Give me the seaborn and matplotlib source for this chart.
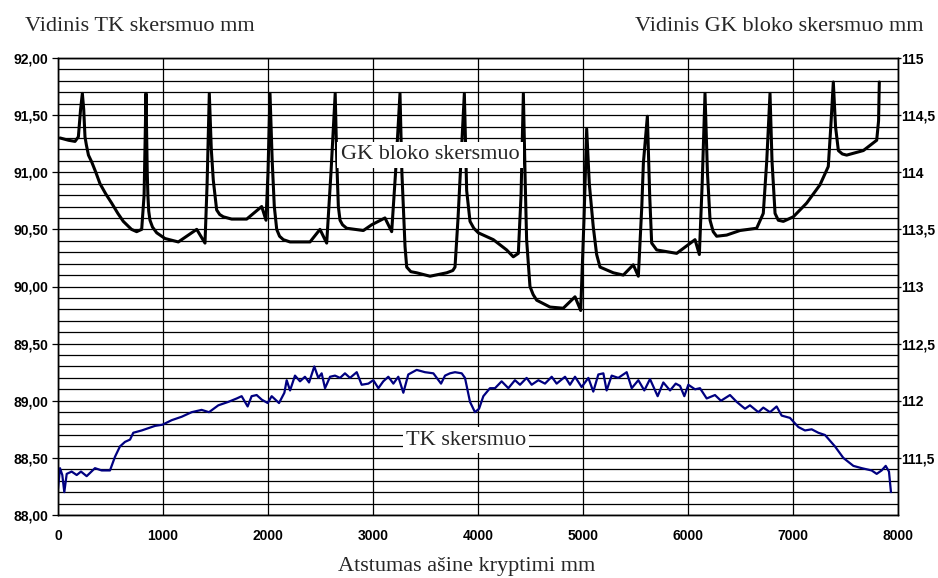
import matplotlib
matplotlib.use("Agg")
import matplotlib.pyplot as plt
import matplotlib.ticker as mticker
import seaborn as sns
import pandas as pd

# ---------------- data ----------------
tk_x = [0, 19, 41, 60, 83, 130, 178, 219, 273, 352, 416, 495, 543, 590, 638, 686, 717, 797, 860, 924,
        994, 1083, 1178, 1273, 1368, 1438, 1527, 1622, 1702, 1749, 1806, 1844, 1892, 1940, 1997, 2035,
        2105, 2156, 2178, 2210, 2257, 2305, 2352, 2391, 2441, 2479, 2511, 2543, 2591, 2638, 2686, 2733,
        2781, 2845, 2892, 2956, 3003, 3051, 3098, 3146, 3194, 3241, 3289, 3336, 3416, 3495, 3575, 3648,
        3686, 3733, 3781, 3845, 3876, 3924, 3971, 4010, 4051, 4114, 4162, 4225, 4289, 4352, 4400, 4463,
        4511, 4575, 4638, 4702, 4749, 4829, 4876, 4924, 4987, 5051, 5098, 5146, 5194, 5225, 5273, 5336,
        5416, 5464, 5527, 5584, 5638, 5711, 5765, 5829, 5883, 5924, 5965, 6003, 6067, 6114, 6178, 6257,
        6314, 6400, 6464, 6543, 6590, 6670, 6717, 6781, 6844, 6892, 6971, 7051, 7114, 7178, 7241, 7305,
        7400, 7479, 7575, 7654, 7749, 7797, 7844, 7883, 7914, 7933]
tk_y = [88.23, 88.41, 88.35, 88.20, 88.36, 88.38, 88.35, 88.38, 88.34, 88.41, 88.39, 88.39, 88.51, 88.60,
        88.64, 88.66, 88.72, 88.74, 88.76, 88.78, 88.79, 88.83, 88.86, 88.90, 88.92, 88.90, 88.96, 88.99,
        89.02, 89.04, 88.95, 89.04, 89.05, 89.01, 88.98, 89.04, 88.98, 89.07, 89.18, 89.09, 89.22, 89.17,
        89.21, 89.16, 89.30, 89.20, 89.24, 89.11, 89.21, 89.22, 89.20, 89.24, 89.20, 89.25, 89.14, 89.15,
        89.18, 89.11, 89.17, 89.21, 89.15, 89.21, 89.07, 89.23, 89.27, 89.25, 89.24, 89.15, 89.22, 89.24,
        89.25, 89.24, 89.20, 88.99, 88.90, 88.93, 89.04, 89.11, 89.11, 89.17, 89.11, 89.18, 89.14, 89.20,
        89.14, 89.18, 89.15, 89.21, 89.15, 89.21, 89.14, 89.21, 89.12, 89.20, 89.08, 89.23, 89.24, 89.09,
        89.22, 89.20, 89.25, 89.11, 89.18, 89.09, 89.19, 89.04, 89.16, 89.09, 89.15, 89.13, 89.04, 89.14,
        89.10, 89.11, 89.02, 89.05, 89.00, 89.05, 88.99, 88.93, 88.96, 88.90, 88.94, 88.90, 88.95, 88.87,
        88.85, 88.77, 88.74, 88.75, 88.72, 88.70, 88.60, 88.50, 88.43, 88.41, 88.39, 88.36, 88.39, 88.43,
        88.38, 88.20]

gk_x = [20, 100, 162, 194, 215, 232, 245, 257, 270, 290, 321, 360,
        400, 455, 511, 570, 622, 700, 749, 797, 820, 838, 850, 856, 864,
        876, 900, 940, 1019, 1146, 1321, 1400, 1420, 1441, 1460, 1479,
        1511, 1540, 1575, 1654, 1797, 1940, 1981, 2000, 2019, 2040, 2060,
        2083, 2110, 2146, 2210, 2400, 2495, 2559, 2600, 2640, 2655, 2670,
        2686, 2710, 2749, 2908, 2987, 3114, 3178, 3215, 3257, 3275, 3289,
        3305, 3321, 3360, 3416, 3543, 3702, 3760, 3781, 3810, 3870, 3885, 3892, 3924,
        3960, 4003, 4146, 4273, 4336, 4384, 4410, 4432, 4450, 4463, 4495,
        4525, 4559, 4686, 4812, 4924, 4978, 5010, 5035, 5060, 5098, 5130, 5162,
        5289, 5384, 5448, 5479, 5527, 5560, 5575, 5613, 5635, 5654,
        5702, 5892, 6067, 6108, 6135, 6162, 6185, 6210, 6240, 6273, 6368,
        6495, 6654, 6717, 6750, 6781, 6800, 6829, 6860, 6908, 7003, 7130,
        7257, 7336, 7360, 7384, 7405, 7432, 7470, 7511, 7670, 7797, 7815, 7822]
gk_y = [114.30, 114.28, 114.27, 114.31, 114.55, 114.69, 114.55, 114.31, 114.24, 114.15, 114.09, 114.00,
        113.90, 113.81, 113.73, 113.64, 113.57, 113.50, 113.48, 113.50, 113.80, 114.69, 114.00, 113.80, 113.66,
        113.58, 113.52, 113.47, 113.42, 113.39, 113.50, 113.38, 113.90, 114.69, 114.20, 113.93,
        113.67, 113.63, 113.61, 113.59, 113.59, 113.70, 113.58, 114.00, 114.69, 114.10, 113.70,
        113.50, 113.44, 113.41, 113.39, 113.39, 113.50, 113.38, 114.00, 114.69, 114.10, 113.70,
        113.58, 113.54, 113.51, 113.49, 113.54, 113.60, 113.48, 114.00, 114.69, 114.00, 113.70,
        113.35, 113.17, 113.13, 113.12, 113.09, 113.12, 113.14, 113.17, 113.60, 114.69, 114.10, 113.84, 113.57,
        113.51, 113.47, 113.41, 113.32, 113.26, 113.29, 113.80, 114.69, 113.90, 113.41, 113.00,
        112.93, 112.88, 112.82, 112.81, 112.91, 112.79, 113.60, 114.38, 113.90, 113.52, 113.28, 113.17,
        113.12, 113.10, 113.16, 113.19, 113.09, 113.70, 114.08, 114.49, 113.80, 113.38,
        113.32, 113.29, 113.41, 113.28, 113.90, 114.69, 114.00, 113.58, 113.48, 113.44, 113.45,
        113.49, 113.51, 113.64, 114.10, 114.69, 114.10, 113.64, 113.58, 113.57, 113.61, 113.73,
        113.89, 114.05, 114.40, 114.79, 114.40, 114.19, 114.16, 114.15, 114.19, 114.28, 114.45, 114.79]

x_ticks = [0, 1000, 2000, 3000, 4000, 5000, 6000, 7000, 8000]
left_ticks = [88.0, 88.5, 89.0, 89.5, 90.0, 90.5, 91.0, 91.5, 92.0]
right_ticks = [111.5, 112.0, 112.5, 113.0, 113.5, 114.0, 114.5, 115.0]

title_left = "Vidinis TK skersmuo mm"
title_right = "Vidinis GK bloko skersmuo mm"
x_label = "Atstumas ašine kryptimi mm"
tk_name = "TK skersmuo"
gk_name = "GK bloko skersmuo"

# ---------------- style ----------------
sns.set_style("white")
plt.rcParams['font.family'] = ['Liberation Sans', 'DejaVu Sans']

tk_df = pd.DataFrame({"x": tk_x, "y": tk_y})
gk_df = pd.DataFrame({"x": gk_x, "y": gk_y})

fig = plt.figure(figsize=(9.38, 5.78), dpi=100)
ax = fig.add_axes([58 / 938, 1 - 515 / 578, 840 / 938, 457 / 578])
ax2 = ax.twinx()

sns.lineplot(data=tk_df, x="x", y="y", ax=ax, color="#000080", linewidth=1.6,
             estimator=None, sort=False, zorder=3)
sns.lineplot(data=gk_df, x="x", y="y", ax=ax2, color="black", linewidth=2.2,
             estimator=None, sort=False, zorder=3)
for ln in ax.lines + ax2.lines:
    ln.set_solid_joinstyle("round")

ax.set_xlim(0, 8000)
ax.set_ylim(88, 92)
ax2.set_ylim(111, 115)

ax.set_xlabel("")
ax.set_ylabel("")
ax2.set_ylabel("")

ax.xaxis.set_major_locator(mticker.FixedLocator(x_ticks))
ax.set_xticklabels([str(v) for v in x_ticks])
ax.yaxis.set_major_locator(mticker.FixedLocator(left_ticks))
ax.set_yticklabels([f"{v:.2f}".replace('.', ',') for v in left_ticks])
ax.yaxis.set_minor_locator(mticker.MultipleLocator(0.1))
ax2.yaxis.set_major_locator(mticker.FixedLocator(right_ticks))
ax2.set_yticklabels([f"{v:g}".replace('.', ',') for v in right_ticks])

ax.grid(True, which="major", axis="x", color="black", linewidth=0.9)
ax.grid(True, which="both", axis="y", color="black", linewidth=0.9)
ax.set_axisbelow(True)
ax2.grid(False)

for lab in ax.get_xticklabels() + ax.get_yticklabels() + ax2.get_yticklabels():
    lab.set_fontsize(10)
    lab.set_fontweight("bold")
ax.tick_params(axis="x", which="major", direction="out", length=4, width=0.9, pad=6, colors="black")
ax.tick_params(axis="y", which="major", direction="out", length=4, width=0.9, pad=3, colors="black")
ax.tick_params(axis="y", which="minor", length=0)
ax2.tick_params(axis="y", which="major", direction="out", length=2, width=0.9, pad=0.5, colors="black")

for a in (ax, ax2):
    for s in a.spines.values():
        s.set_color("black")
        s.set_linewidth(1.0)
        s.set_visible(True)

serif = ['Liberation Serif', 'DejaVu Serif']
fig.text(25 / 938, 1 - 31 / 578, title_left, family=serif, fontsize=16, ha="left", va="baseline")
fig.text(923 / 938, 1 - 31 / 578, title_right, family=serif, fontsize=16, ha="right", va="baseline")
fig.text(467 / 938, 1 - 571 / 578, x_label, family=serif, fontsize=16, ha="center", va="baseline")

box = dict(facecolor="white", edgecolor="none", boxstyle="square,pad=0.15")
ax2.text(3543, 114.151, gk_name, family=serif, fontsize=16, ha="center", va="center",
         bbox=box, zorder=5)
ax2.text(3886, 111.655, tk_name, family=serif, fontsize=16, ha="center", va="center",
         bbox=box, zorder=5)

fig.savefig("out.png", dpi=100, facecolor="white")
